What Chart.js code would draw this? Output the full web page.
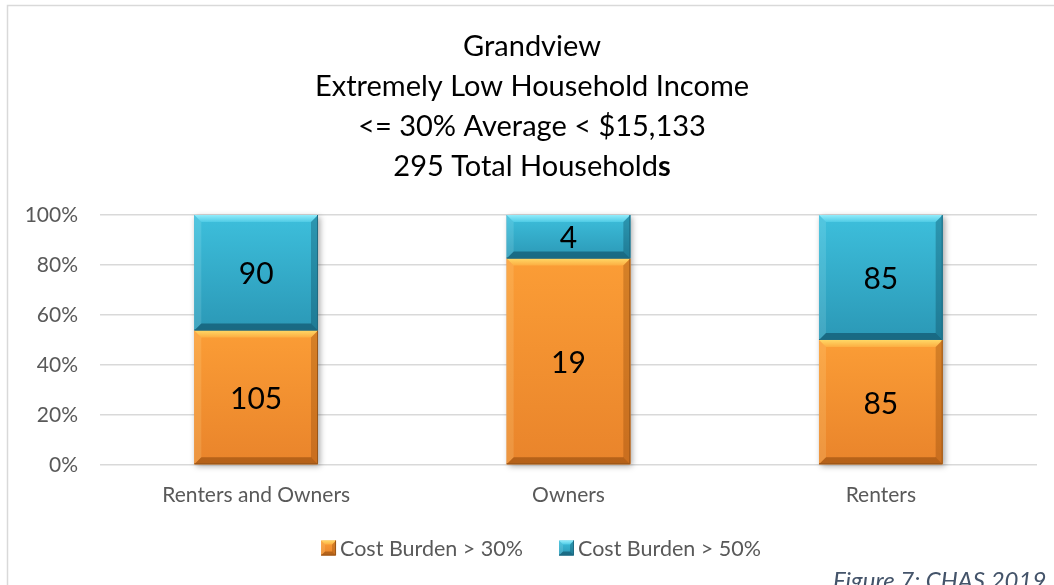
<!DOCTYPE html>
<html>
<head>
<meta charset="utf-8">
<script src="https://cdn.jsdelivr.net/npm/chart.js@4.4.1/dist/chart.umd.min.js"></script>
<style>
  html, body { margin: 0; padding: 0; background: #ffffff; overflow: hidden; }
  #wrap { position: relative; width: 1054px; height: 585px; }
  canvas { display: block; }
</style>
</head>
<body>
<div id="wrap"><canvas id="chart" width="1054" height="585"></canvas></div>
<script>
// Household counts by tenure
const categories = ['Renters and Owners', 'Owners', 'Renters'];
const burden30 = [105, 19, 85];
const burden50 = [90, 4, 85];
const seriesNames = ['Cost Burden > 30%', 'Cost Burden > 50%'];
const yTickValues = [0, 20, 40, 60, 80, 100];
const titleLines = ['Grandview', 'Extremely Low Household Income', '<= 30% Average < $15,133', '295 Total Household', 's'];
const captionText = 'Figure 7: CHAS 2019';

const FONT = 'Lato, "Open Sans", "Noto Sans", sans-serif';

// 100% stacked shares from the counts
const totals = categories.map((_, i) => burden30[i] + burden50[i]);
const share30 = burden30.map((v, i) => v / totals[i] * 100);
const share50 = burden50.map((v, i) => v / totals[i] * 100);

// bevel palettes for each series
const palettes = [
  { face0: '#fb9d36', face1: '#e9842b', hi0: '#ffd866', hi1: '#fcae42', left: 'rgba(255,230,160,0.18)', right: 'rgba(120,55,0,0.28)', bottom: 'rgba(110,50,0,0.42)', edge: '#9a5618', flat: '#f7942f' },
  { face0: '#3dbfdc', face1: '#2b98b6', hi0: '#92ecfb', hi1: '#4fcbe5', left: 'rgba(200,245,255,0.15)', right: 'rgba(0,45,65,0.28)', bottom: 'rgba(0,40,60,0.42)', edge: '#1f6b82', flat: '#33abcb' }
];

function bevelRect(ctx, l, t, r, b, p, d) {
  const g = ctx.createLinearGradient(0, t, 0, b);
  g.addColorStop(0, p.face0);
  g.addColorStop(1, p.face1);
  ctx.fillStyle = g;
  ctx.fillRect(l, t, r - l, b - t);
  d = Math.min(d, (b - t) / 2, (r - l) / 2);
  // top
  const gt = ctx.createLinearGradient(0, t, 0, t + d);
  gt.addColorStop(0, p.hi0);
  gt.addColorStop(1, p.hi1);
  ctx.fillStyle = gt;
  ctx.beginPath(); ctx.moveTo(l, t); ctx.lineTo(r, t); ctx.lineTo(r - d, t + d); ctx.lineTo(l + d, t + d); ctx.closePath(); ctx.fill();
  // left
  ctx.fillStyle = p.left;
  ctx.beginPath(); ctx.moveTo(l, t); ctx.lineTo(l + d, t + d); ctx.lineTo(l + d, b - d); ctx.lineTo(l, b); ctx.closePath(); ctx.fill();
  // right
  ctx.fillStyle = p.right;
  ctx.beginPath(); ctx.moveTo(r, t); ctx.lineTo(r, b); ctx.lineTo(r - d, b - d); ctx.lineTo(r - d, t + d); ctx.closePath(); ctx.fill();
  // bottom
  ctx.fillStyle = p.bottom;
  ctx.beginPath(); ctx.moveTo(l, b); ctx.lineTo(l + d, b - d); ctx.lineTo(r - d, b - d); ctx.lineTo(r, b); ctx.closePath(); ctx.fill();
  // dark outer edge on right and bottom
  ctx.strokeStyle = p.edge;
  ctx.lineWidth = 1;
  ctx.beginPath(); ctx.moveTo(r - 0.5, t); ctx.lineTo(r - 0.5, b - 0.5); ctx.lineTo(l, b - 0.5); ctx.stroke();
}

function segRect(el) {
  const p = el.getProps(['x', 'y', 'base', 'width'], true);
  return { l: p.x - p.width / 2, r: p.x + p.width / 2, t: Math.min(p.y, p.base), b: Math.max(p.y, p.base), cx: p.x };
}

const framePlugin = {
  id: 'frame',
  beforeDraw(chart) {
    const ctx = chart.ctx;
    ctx.save();
    ctx.fillStyle = '#ffffff';
    ctx.fillRect(0, 0, chart.width, chart.height);
    ctx.strokeStyle = '#d9d9d9';
    ctx.lineWidth = 1.5;
    ctx.strokeRect(7.5, 5.5, 1050, 600);
    ctx.restore();
  }
};

const titlePlugin = {
  id: 'stackTitle',
  afterDraw(chart) {
    const ctx = chart.ctx;
    const cx = 532;
    const size = 29;
    const lh = 40;
    ctx.save();
    ctx.fillStyle = '#000000';
    ctx.textBaseline = 'middle';
    ctx.textAlign = 'center';
    ctx.font = `${size}px ${FONT}`;
    for (let i = 0; i < 3; i++) ctx.fillText(titleLines[i], cx, 47 + i * lh);
    // last line carries a bold trailing letter
    const y = 47 + 3 * lh;
    ctx.font = `${size}px ${FONT}`;
    const w1 = ctx.measureText(titleLines[3]).width;
    ctx.font = `bold ${size}px ${FONT}`;
    const w2 = ctx.measureText(titleLines[4]).width;
    const x0 = cx - (w1 + w2) / 2;
    ctx.textAlign = 'left';
    ctx.font = `${size}px ${FONT}`;
    ctx.fillText(titleLines[3], x0, y);
    ctx.font = `bold ${size}px ${FONT}`;
    ctx.fillText(titleLines[4], x0 + w1, y);
    ctx.restore();
  }
};

const barPlugin = {
  id: 'bevelBars',
  beforeDatasetsDraw(chart) {
    // soft drop shadow under each full column
    const ctx = chart.ctx;
    const m0 = chart.getDatasetMeta(0), m1 = chart.getDatasetMeta(1);
    ctx.save();
    m0.data.forEach((el, i) => {
      const a = segRect(el), b = segRect(m1.data[i]);
      const t = Math.min(a.t, b.t), bt = Math.max(a.b, b.b);
      ctx.shadowColor = 'rgba(0,0,0,0.35)';
      ctx.shadowBlur = 6;
      ctx.shadowOffsetX = 2;
      ctx.shadowOffsetY = 2;
      ctx.fillStyle = '#cfcfcf';
      ctx.fillRect(a.l, t, a.r - a.l, bt - t);
    });
    ctx.restore();
  },
  afterDatasetsDraw(chart) {
    const ctx = chart.ctx;
    ctx.save();
    chart.data.datasets.forEach((ds, di) => {
      const meta = chart.getDatasetMeta(di);
      meta.data.forEach((el) => {
        const r = segRect(el);
        bevelRect(ctx, r.l, r.t, r.r, r.b, palettes[di], 7);
      });
    });
    // value labels: raw household counts centred in each segment
    ctx.fillStyle = '#000000';
    ctx.textAlign = 'center';
    ctx.textBaseline = 'middle';
    ctx.font = `30px ${FONT}`;
    chart.data.datasets.forEach((ds, di) => {
      const meta = chart.getDatasetMeta(di);
      meta.data.forEach((el, i) => {
        const r = segRect(el);
        ctx.fillText(String(ds.counts[i]), r.cx, (r.t + r.b) / 2 + 2);
      });
    });
    ctx.restore();
  }
};

const legendPlugin = {
  id: 'bevelLegend',
  afterDraw(chart) {
    const ctx = chart.ctx;
    ctx.save();
    ctx.font = `21.5px ${FONT}`;
    ctx.textBaseline = 'middle';
    ctx.textAlign = 'left';
    const box = 15, gapText = 4, gapItem = 36;
    const widths = chart.data.datasets.map(ds => box + gapText + ctx.measureText(ds.label).width);
    const total = widths.reduce((s, w) => s + w, 0) + gapItem * (widths.length - 1);
    let x = 541 - total / 2;
    const y = 548;
    chart.data.datasets.forEach((ds, di) => {
      bevelRect(ctx, x, y - box / 2, x + box, y + box / 2, palettes[di], 4);
      ctx.fillStyle = '#595959';
      ctx.fillText(ds.label, x + box + gapText, y + 1);
      x += widths[di] + gapItem;
    });
    // figure caption
    ctx.font = `italic 24px ${FONT}`;
    ctx.fillStyle = '#44546a';
    ctx.textBaseline = 'alphabetic';
    ctx.fillText(captionText, 833, 589);
    ctx.restore();
  }
};

new Chart(document.getElementById('chart'), {
  type: 'bar',
  data: {
    labels: categories,
    datasets: [
      { label: seriesNames[0], data: share30, counts: burden30, backgroundColor: palettes[0].flat, borderWidth: 0 },
      { label: seriesNames[1], data: share50, counts: burden50, backgroundColor: palettes[1].flat, borderWidth: 0 }
    ]
  },
  options: {
    responsive: false,
    animation: false,
    devicePixelRatio: 1,
    categoryPercentage: 0.8,
    barPercentage: 0.495,
    layout: { padding: { left: 0, right: 17, top: 215, bottom: 0 } },
    plugins: {
      legend: { display: false },
      title: { display: false },
      tooltip: { enabled: false }
    },
    scales: {
      x: {
        stacked: true,
        grid: { display: false, drawTicks: false },
        border: { display: false },
        ticks: { color: '#595959', font: { family: FONT, size: 21 }, padding: 18 },
        afterFit(scale) { scale.height = 120; }
      },
      y: {
        stacked: true,
        min: 0,
        max: 100,
        afterBuildTicks(scale) { scale.ticks = yTickValues.map(v => ({ value: v })); },
        grid: { color: '#d9d9d9', lineWidth: 1.5, drawTicks: false },
        border: { display: false },
        ticks: { color: '#595959', font: { family: FONT, size: 21 }, padding: 22, callback: v => v + '%' },
        afterFit(scale) { scale.width = 100; }
      }
    }
  },
  plugins: [framePlugin, barPlugin, titlePlugin, legendPlugin]
});
</script>
</body>
</html>
